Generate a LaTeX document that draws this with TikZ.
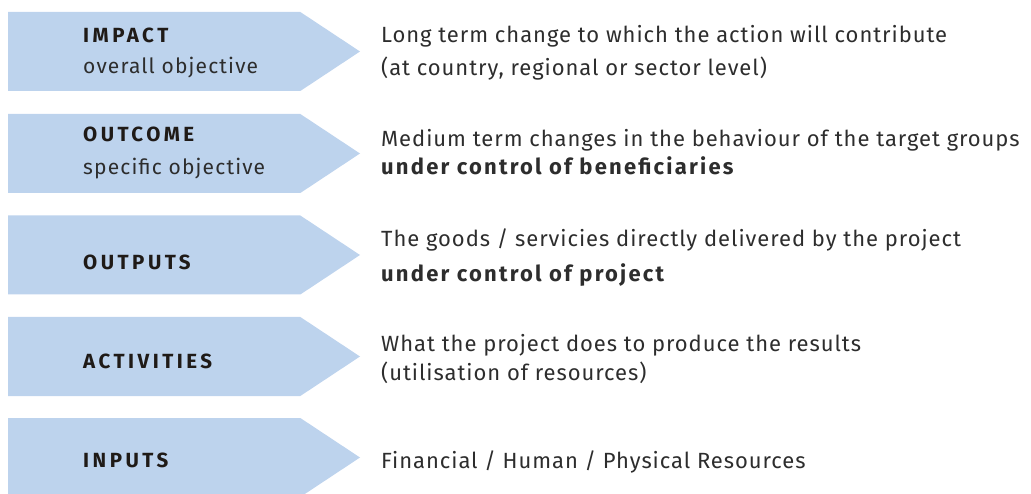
\documentclass[tikz,border=0pt]{standalone}
\usepackage{fontspec}
\setmainfont{Fira Sans}[LetterSpace=5.5]
\usepackage{tikz}
\usetikzlibrary{positioning, shapes.symbols}
\definecolor{levelblue}{RGB}{189,211,237}
\definecolor{labeltext}{HTML}{1F1A17}
\definecolor{desctext}{HTML}{2D2D2D}
\newfontfamily\labelfont[LetterSpace=17]{Fira Sans Bold}
\newfontfamily\descfont{Fira Sans}[LetterSpace=4.3, BoldFont={Fira Sans Bold}, BoldFeatures={LetterSpace=10}]

\begin{document}
\begin{tikzpicture}[x=1pt, y=-1pt,
    level/.style={signal, signal to=east, signal from=nowhere, signal pointer angle=67,
        fill=levelblue, inner sep=0, outer sep=0, minimum width=352pt, minimum height=79pt, anchor=west},
    label/.style={anchor=base west, inner sep=0, text=labeltext, font=\labelfont\fontsize{20.5}{24}\selectfont},
    sublabel/.style={anchor=base west, inner sep=0, text=desctext, font=\fontsize{21}{25}\selectfont},
    desc/.style={anchor=base west, inner sep=0, text=desctext, font=\descfont\fontsize{22}{26}\selectfont}]
    \useasboundingbox (0,0) rectangle (1031,494);
    % Levels
    \node (impact) at (8,51.5) [level] {};
    \node (outcome) at (8,153.5) [level] {};
    \node (outputs) at (8,255) [level] {};
    \node (activities) at (8,356.5) [level] {};
    \node (inputs) at (8,457.5) [level] {};
    % Level names
    \node (impactname) at (83,42.5) [label] {IMPACT};
    \node (impactsub) at (83,74) [sublabel] {overall objective};
    \node (outcomename) at (83,142) [label] {OUTCOME};
    \node (outcomesub) at (83,175) [sublabel] {specific objective};
    \node (outputsname) at (83,270) [label] {OUTPUTS};
    \node (activitiesname) at (83,368) [label] {ACTIVITIES};
    \node (inputsname) at (83,467) [label] {INPUTS};
    % Descriptions
    \node (impactdesc) at (381,43) [desc] {Long term change to which the action will contribute};
    \node (impactdescb) at (381,76) [desc] {(at country, regional or sector level)};
    \node (outcomedesc) at (381,147) [desc] {Medium term changes in the behaviour of the target groups};
    \node (outcomedescb) at (381,175) [desc] {\bfseries under control of beneficiaries};
    \node (outputsdesc) at (381,247) [desc] {The goods / servicies directly delivered by the project};
    \node (outputsdescb) at (381,282) [desc] {\bfseries under control of project};
    \node (activitiesdesc) at (381,352) [desc] {What the project does to produce the results};
    \node (activitiesdescb) at (381,380) [desc] {(utilisation of resources)};
    \node (inputsdesc) at (381,468) [desc] {Financial / Human / Physical Resources};
\end{tikzpicture}
\end{document}
